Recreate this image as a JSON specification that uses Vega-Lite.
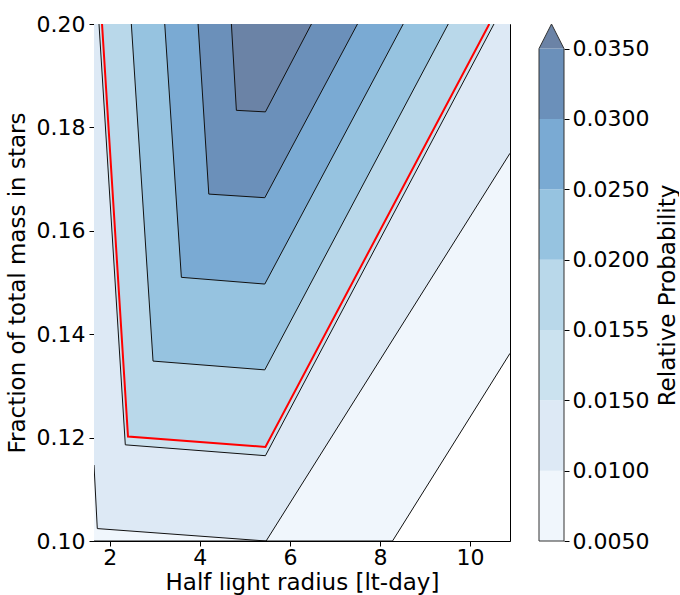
{
  "$schema": "https://vega.github.io/schema/vega-lite/v6.json",
  "background": "white",
  "padding": {"left": 5, "top": 12, "right": 0, "bottom": 0},
  "spacing": 26,
  "config": {
    "font": "DejaVu Sans",
    "view": {"stroke": "black", "strokeWidth": 1},
    "axis": {
      "labelFont": "DejaVu Sans",
      "titleFont": "DejaVu Sans",
      "labelFontSize": 22,
      "titleFontSize": 23,
      "titleFontWeight": "normal",
      "labelColor": "black",
      "titleColor": "black",
      "tickColor": "black",
      "domainColor": "black",
      "grid": false,
      "tickSize": 5,
      "labelPadding": 4
    }
  },
  "datasets": {
    "contours": [
      {"level": 0.005, "x": 1.649, "y": 0.1},
      {"level": 0.005, "x": 8.278, "y": 0.1},
      {"level": 0.005, "x": 10.887, "y": 0.1363},
      {"level": 0.01, "x": 1.649, "y": 0.1147},
      {"level": 0.01, "x": 1.722, "y": 0.1024},
      {"level": 0.01, "x": 5.471, "y": 0.1},
      {"level": 0.01, "x": 10.887, "y": 0.175},
      {"level": 0.015, "x": 1.76, "y": 0.2},
      {"level": 0.015, "x": 2.344, "y": 0.1186},
      {"level": 0.015, "x": 5.456, "y": 0.1165},
      {"level": 0.015, "x": 10.531, "y": 0.2},
      {"level": 0.0155, "x": 1.827, "y": 0.2},
      {"level": 0.0155, "x": 2.404, "y": 0.1202},
      {"level": 0.0155, "x": 5.456, "y": 0.1182},
      {"level": 0.0155, "x": 10.427, "y": 0.2},
      {"level": 0.02, "x": 2.478, "y": 0.2},
      {"level": 0.02, "x": 2.96, "y": 0.1348},
      {"level": 0.02, "x": 5.442, "y": 0.1331},
      {"level": 0.02, "x": 9.516, "y": 0.2},
      {"level": 0.025, "x": 3.22, "y": 0.2},
      {"level": 0.025, "x": 3.589, "y": 0.151},
      {"level": 0.025, "x": 5.442, "y": 0.1497},
      {"level": 0.025, "x": 8.516, "y": 0.2},
      {"level": 0.03, "x": 3.96, "y": 0.2},
      {"level": 0.03, "x": 4.198, "y": 0.1671},
      {"level": 0.03, "x": 5.442, "y": 0.1664},
      {"level": 0.03, "x": 7.5, "y": 0.2},
      {"level": 0.035, "x": 4.7, "y": 0.2},
      {"level": 0.035, "x": 4.811, "y": 0.1833},
      {"level": 0.035, "x": 5.456, "y": 0.183},
      {"level": 0.035, "x": 6.478, "y": 0.2}
    ],
    "bands": [
      {"level": 0.005, "i0": 0, "i1": 1},
      {"level": 0.01, "i0": 1, "i1": 2},
      {"level": 0.015, "i0": 2, "i1": 3},
      {"level": 0.0155, "i0": 3, "i1": 4},
      {"level": 0.02, "i0": 4, "i1": 5},
      {"level": 0.025, "i0": 5, "i1": 6},
      {"level": 0.03, "i0": 6, "i1": 7}
    ],
    "extension": [
      {"level": 0.035, "u": 0, "v": 7},
      {"level": 0.035, "u": 0.5, "v": 7.35},
      {"level": 0.035, "u": 1, "v": 7}
    ],
    "outline": [
      {"k": 0, "u": 0, "v": 0},
      {"k": 1, "u": 0, "v": 7},
      {"k": 2, "u": 0.5, "v": 7.35},
      {"k": 3, "u": 1, "v": 7},
      {"k": 4, "u": 1, "v": 0},
      {"k": 5, "u": 0, "v": 0}
    ]
  },
  "hconcat": [
    {
      "width": 416,
      "height": 517,
      "data": {"name": "contours"},
      "encoding": {
        "x": {
          "field": "x",
          "type": "quantitative",
          "scale": {"domain": [1.649, 10.887], "nice": false, "zero": false},
          "axis": {"title": "Half light radius [lt-day]", "values": [2, 4, 6, 8, 10], "format": "d", "labelPadding": 1, "titlePadding": 3}
        },
        "y": {
          "field": "y",
          "type": "quantitative",
          "stack": null,
          "scale": {"domain": [0.1, 0.2], "nice": false, "zero": false},
          "axis": {"title": "Fraction of total mass in stars", "values": [0.1, 0.12, 0.14, 0.16, 0.18, 0.2], "format": ".2f", "titlePadding": 7}
        }
      },
      "layer": [
        {"transform": [{"filter": "datum.level === 0.005"}], "mark": {"type": "area", "clip": true},
         "encoding": {"y2": {"datum": 0.2}, "color": {"field": "level", "type": "ordinal", "legend": null,
           "scale": {"domain": [0.005, 0.01, 0.015, 0.0155, 0.02, 0.025, 0.03, 0.035], "range": ["#f0f6fc", "#dde9f5", "#cbe2ef", "#b9d8ea", "#96c3e0", "#7aaad3", "#6b90ba", "#6b83a6"]}}}},
        {"transform": [{"filter": "datum.level === 0.01"}], "mark": {"type": "area", "clip": true},
         "encoding": {"y2": {"datum": 0.2}, "color": {"field": "level", "type": "ordinal", "legend": null}}},
        {"transform": [{"filter": "datum.level === 0.015"}], "mark": {"type": "area", "clip": true},
         "encoding": {"y2": {"datum": 0.2}, "color": {"field": "level", "type": "ordinal", "legend": null}}},
        {"transform": [{"filter": "datum.level === 0.0155"}], "mark": {"type": "area", "clip": true},
         "encoding": {"y2": {"datum": 0.2}, "color": {"field": "level", "type": "ordinal", "legend": null}}},
        {"transform": [{"filter": "datum.level === 0.02"}], "mark": {"type": "area", "clip": true},
         "encoding": {"y2": {"datum": 0.2}, "color": {"field": "level", "type": "ordinal", "legend": null}}},
        {"transform": [{"filter": "datum.level === 0.025"}], "mark": {"type": "area", "clip": true},
         "encoding": {"y2": {"datum": 0.2}, "color": {"field": "level", "type": "ordinal", "legend": null}}},
        {"transform": [{"filter": "datum.level === 0.03"}], "mark": {"type": "area", "clip": true},
         "encoding": {"y2": {"datum": 0.2}, "color": {"field": "level", "type": "ordinal", "legend": null}}},
        {"transform": [{"filter": "datum.level === 0.035"}], "mark": {"type": "area", "clip": true},
         "encoding": {"y2": {"datum": 0.2}, "color": {"field": "level", "type": "ordinal", "legend": null}}},
        {
          "mark": {"type": "line", "clip": true},
          "encoding": {
            "detail": {"field": "level", "type": "nominal"},
            "color": {"condition": {"test": "datum.level === 0.0155", "value": "#ff0000"}, "value": "#111111"},
            "strokeWidth": {"condition": {"test": "datum.level === 0.0155", "value": 2}, "value": 1}
          }
        }
      ]
    },
    {
      "width": 25,
      "height": 517,
      "view": {"stroke": null},
      "encoding": {
        "y": {
          "field": "v",
          "type": "quantitative",
          "scale": {"domain": [0, 7.35], "nice": false, "zero": false},
          "axis": {
            "orient": "right",
            "domain": false,
            "values": [0, 1, 2, 3, 4, 5, 6, 7],
            "labelExpr": "['0.0050','0.0100','0.0150','0.0155','0.0200','0.0250','0.0300','0.0350'][datum.value]",
            "labelPadding": 3,
            "title": "Relative Probability",
            "titleAngle": 270,
            "titleAlign": "center",
            "titleBaseline": "middle",
            "titleX": 103,
            "titleY": 271
          }
        }
      },
      "layer": [
        {
          "data": {"name": "bands"},
          "mark": {"type": "rect"},
          "encoding": {
            "x": {"datum": 0, "type": "quantitative", "scale": {"domain": [0, 1], "nice": false}, "axis": null},
            "x2": {"datum": 1},
            "y": {"field": "i0", "type": "quantitative"},
            "y2": {"field": "i1"},
            "color": {"field": "level", "type": "ordinal", "legend": null,
              "scale": {"domain": [0.005, 0.01, 0.015, 0.0155, 0.02, 0.025, 0.03, 0.035], "range": ["#f0f6fc", "#dde9f5", "#cbe2ef", "#b9d8ea", "#96c3e0", "#7aaad3", "#6b90ba", "#6b83a6"]}}
          }
        },
        {
          "data": {"name": "extension"},
          "mark": {"type": "area"},
          "encoding": {
            "x": {"field": "u", "type": "quantitative"},
            "y2": {"datum": 7},
            "color": {"field": "level", "type": "ordinal", "legend": null}
          }
        },
        {
          "data": {"name": "outline"},
          "mark": {"type": "line", "color": "#333333", "strokeWidth": 1},
          "encoding": {
            "x": {"field": "u", "type": "quantitative"},
            "order": {"field": "k"}
          }
        }
      ]
    }
  ]
}
